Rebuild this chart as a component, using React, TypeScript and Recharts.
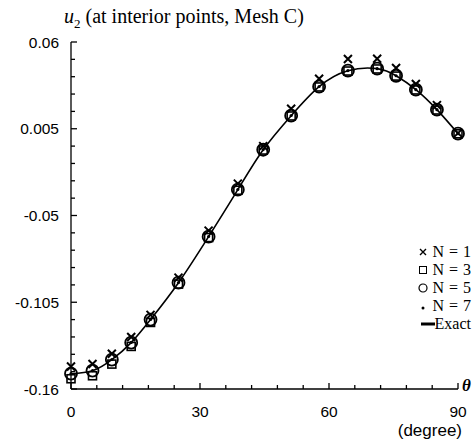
import { ComposedChart, Line, Scatter, XAxis, YAxis } from "recharts";

// angle of each interior point (degree)
const THETA = [0, 5, 9.5, 14, 18.5, 25, 32, 38.8, 44.7, 51.2, 57.7, 64.4, 71.2, 75.6, 80.2, 85.1, 90];

const N1 = [-0.1457, -0.1442, -0.1376, -0.127, -0.113, -0.0894, -0.0596, -0.0298, -0.006, 0.0177, 0.0367, 0.0492, 0.0494, 0.0435, 0.0334, 0.02, 0.0022];
const N3 = [-0.1535, -0.1516, -0.1442, -0.133, -0.1178, -0.0935, -0.064, -0.034, -0.0085, 0.0131, 0.0315, 0.0416, 0.0429, 0.0384, 0.0296, 0.0169, 0.0018];
const N5 = [-0.1503, -0.1484, -0.1414, -0.1306, -0.116, -0.0926, -0.0634, -0.0336, -0.0083, 0.0133, 0.0317, 0.0418, 0.0431, 0.0386, 0.0298, 0.0171, 0.0019];
const N7 = [-0.1502, -0.1483, -0.1413, -0.1305, -0.1159, -0.0925, -0.0633, -0.0335, -0.0082, 0.0134, 0.0318, 0.0419, 0.0431, 0.0386, 0.0298, 0.0171, 0.0019];
const EXACT = [-0.1503, -0.1484, -0.1414, -0.1306, -0.116, -0.0926, -0.0634, -0.0336, -0.0083, 0.0133, 0.0317, 0.0418, 0.0431, 0.0386, 0.0298, 0.0171, 0.0019];

const X_MAJOR = [0, 30, 60, 90];
const X_MINOR_STEP = 6;
const Y_MAJOR = [-0.16, -0.105, -0.05, 0.005, 0.06];
const Y_LABELS = ["-0.16", "-0.105", "-0.05", "0.005", "0.06"];
const Y_MINOR_PER_MAJOR = 5;

const LEGEND = ["N = 1", "N = 3", "N = 5", "N = 7", "Exact"];

const rows = THETA.map((t, i) => ({
  theta: t,
  n1: N1[i],
  n3: N3[i],
  n5: N5[i],
  n7: N7[i],
  exact: EXACT[i],
}));

const xTicks: number[] = [];
for (let v = X_MAJOR[0]; v <= X_MAJOR[X_MAJOR.length - 1] + 1e-9; v += X_MINOR_STEP) xTicks.push(v);

const yTicks: number[] = [];
for (let i = 0; i < Y_MAJOR.length - 1; i++) {
  const step = (Y_MAJOR[i + 1] - Y_MAJOR[i]) / Y_MINOR_PER_MAJOR;
  for (let k = 0; k < Y_MINOR_PER_MAJOR; k++) yTicks.push(Y_MAJOR[i] + k * step);
}
yTicks.push(Y_MAJOR[Y_MAJOR.length - 1]);

const SANS = "'Liberation Sans', Arial, sans-serif";
const SERIF = "'Liberation Serif', 'Times New Roman', serif";

const XTick = (props: any) => {
  const { x, y, payload } = props;
  const major = X_MAJOR.some((m) => Math.abs(m - payload.value) < 1e-6);
  return (
    <g>
      <line x1={x} x2={x} y1={y} y2={y - (major ? 6 : 4)} stroke="#000" strokeWidth={1.3} />
      {major && (
        <text x={x} y={y + 28} textAnchor="middle" fontFamily={SANS} fontSize={15.5} fill="#000">
          {payload.value}
        </text>
      )}
    </g>
  );
};

const YTick = (props: any) => {
  const { x, y, payload } = props;
  const idx = Y_MAJOR.findIndex((m) => Math.abs(m - payload.value) < 1e-6);
  const major = idx >= 0;
  return (
    <g>
      <line x1={x} x2={x + (major ? 6 : 4)} y1={y} y2={y} stroke="#000" strokeWidth={1.3} />
      {major && (
        <text x={x - 12} y={y + 5.5} textAnchor="end" fontFamily={SANS} fontSize={15.5} fill="#000">
          {Y_LABELS[idx]}
        </text>
      )}
    </g>
  );
};

const Cross = (p: any) => (
  <path
    d={`M${p.cx - 4},${p.cy - 4}L${p.cx + 4},${p.cy + 4}M${p.cx + 4},${p.cy - 4}L${p.cx - 4},${p.cy + 4}`}
    stroke="#000"
    strokeWidth={2}
  />
);
const Square = (p: any) => (
  <rect x={p.cx - 4} y={p.cy - 4} width={8} height={8} fill="none" stroke="#000" strokeWidth={1.6} />
);
const Ring = (p: any) => <circle cx={p.cx} cy={p.cy} r={6} fill="none" stroke="#000" strokeWidth={1.8} />;
const Dot = (p: any) => <circle cx={p.cx} cy={p.cy} r={1.6} fill="#000" />;

function LegendIcon({ i }: { i: number }) {
  const c = 6;
  if (i === 0)
    return (
      <svg width={12} height={12}>
        <path d="M3,3L9,9M9,3L3,9" stroke="#000" strokeWidth={1.4} />
      </svg>
    );
  if (i === 1)
    return (
      <svg width={12} height={12}>
        <rect x={2.5} y={2.5} width={7} height={7} fill="none" stroke="#000" strokeWidth={1} />
      </svg>
    );
  if (i === 2)
    return (
      <svg width={12} height={12}>
        <circle cx={c} cy={c} r={4} fill="none" stroke="#000" strokeWidth={1.2} />
      </svg>
    );
  if (i === 3)
    return (
      <svg width={12} height={12}>
        <circle cx={c} cy={c + 2} r={1.5} fill="#000" />
      </svg>
    );
  return (
    <svg width={14} height={12}>
      <line x1={0} x2={14} y1={6} y2={6} stroke="#000" strokeWidth={3} />
    </svg>
  );
}

export default function App() {
  return (
    <div style={{ position: "absolute", left: 0, top: 0, width: 474, height: 447, background: "#fff" }}>
      <ComposedChart width={474} height={447} data={rows} margin={{ top: 42, right: 16, bottom: 28, left: 21 }}>
        <XAxis
          dataKey="theta"
          type="number"
          domain={[0, 90]}
          ticks={xTicks}
          interval={0}
          height={30}
          tickSize={0}
          tickMargin={0}
          tick={<XTick />}
          axisLine={{ stroke: "#000", strokeWidth: 1.3 }}
        />
        <YAxis
          type="number"
          domain={[-0.16, 0.06]}
          ticks={yTicks}
          interval={0}
          width={50}
          tickSize={0}
          tickMargin={0}
          tick={<YTick />}
          axisLine={{ stroke: "#000", strokeWidth: 1.3 }}
        />
        <Line
          dataKey="exact"
          type="natural"
          stroke="#000"
          strokeWidth={1.6}
          dot={false}
          activeDot={false}
          isAnimationActive={false}
        />
        <Scatter dataKey="n3" shape={<Square />} isAnimationActive={false} />
        <Scatter dataKey="n1" shape={<Cross />} isAnimationActive={false} />
        <Scatter dataKey="n5" shape={<Ring />} isAnimationActive={false} />
        <Scatter dataKey="n7" shape={<Dot />} isAnimationActive={false} />
      </ComposedChart>

      <div
        style={{
          position: "absolute",
          left: 64,
          top: 5,
          fontFamily: SERIF,
          fontSize: 20,
          whiteSpace: "nowrap",
        }}
      >
        <i>u</i>
        <sub style={{ fontSize: 13 }}>2</sub> (at interior points, Mesh C)
      </div>

      <div style={{ position: "absolute", right: 3, top: 243, fontFamily: SERIF, fontSize: 16, lineHeight: "18px" }}>
        {LEGEND.map((label, i) => (
          <div key={label} style={{ display: "flex", alignItems: "center", justifyContent: "flex-end" }}>
            <LegendIcon i={i} />
            <span style={{ marginLeft: i === 4 ? 0 : 3, wordSpacing: 1 }}>{label}</span>
          </div>
        ))}
      </div>

      <div style={{ position: "absolute", left: 462, top: 376, fontFamily: SERIF, fontStyle: "italic", fontWeight: "bold", fontSize: 17 }}>
        θ
      </div>
      <div style={{ position: "absolute", right: 12, top: 421, fontFamily: SANS, fontSize: 17 }}>(degree)</div>
    </div>
  );
}
